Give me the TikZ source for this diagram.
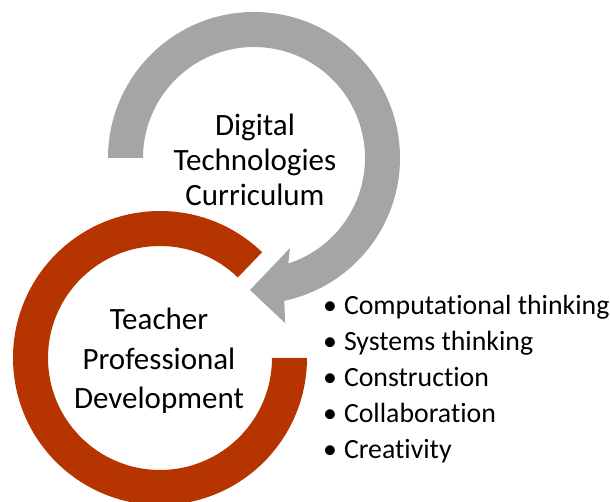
\documentclass[tikz,border=0pt]{standalone}
\usepackage{fontspec}
\setmainfont{Carlito}[Ligatures=NoCommon]
\usetikzlibrary{calc}
\definecolor{arcgray}{RGB}{165,165,165}
\definecolor{arcred}{RGB}{181,52,0}
\begin{document}
\begin{tikzpicture}[x=1pt,y=1pt,
  bigtext/.style={align=center,inner sep=0pt,font=\fontsize{31}{35}\selectfont},
  redtext/.style={align=center,inner sep=0pt,font=\fontsize{31}{39.5}\selectfont},
  bullettext/.style={anchor=base west,inner sep=0pt,font=\fontsize{27.8}{36}\selectfont}]
\useasboundingbox (0,0) rectangle (610,502);
\clip (0,0) rectangle (610,502);
% gray circular arrow
\coordinate (gc) at (254,344);
\fill[arcgray] ($(gc)+(180:146)$) arc[start angle=180,end angle=-78,radius=146]
  -- (285,179) -- (250,212) -- (290,254)
  -- ($(gc)+(-72:111)$) arc[start angle=-72,end angle=180,radius=111] -- cycle;
% red ring
\coordinate (rc) at (160,144);
\fill[arcred] ($(rc)+(46:147)$) arc[start angle=46,end angle=360,radius=147]
  -- ($(rc)+(0:112)$) arc[start angle=360,end angle=46,radius=112] -- cycle;
\node[bigtext] (dtc) at (255,342) {Digital\\Technologies\\Curriculum};
\node[redtext] (tpd) at (159,141) {Teacher\\Professional\\Development};
\node[bullettext] (b1) at (323,187) {•\hspace{7pt}Computational thinking};
\node[bullettext] (b2) at (323,151) {•\hspace{7pt}Systems thinking};
\node[bullettext] (b3) at (323,115) {•\hspace{7pt}Construction};
\node[bullettext] (b4) at (323,79) {•\hspace{7pt}Collaboration};
\node[bullettext] (b5) at (323,43) {•\hspace{7pt}Creativity};
\end{tikzpicture}
\end{document}
